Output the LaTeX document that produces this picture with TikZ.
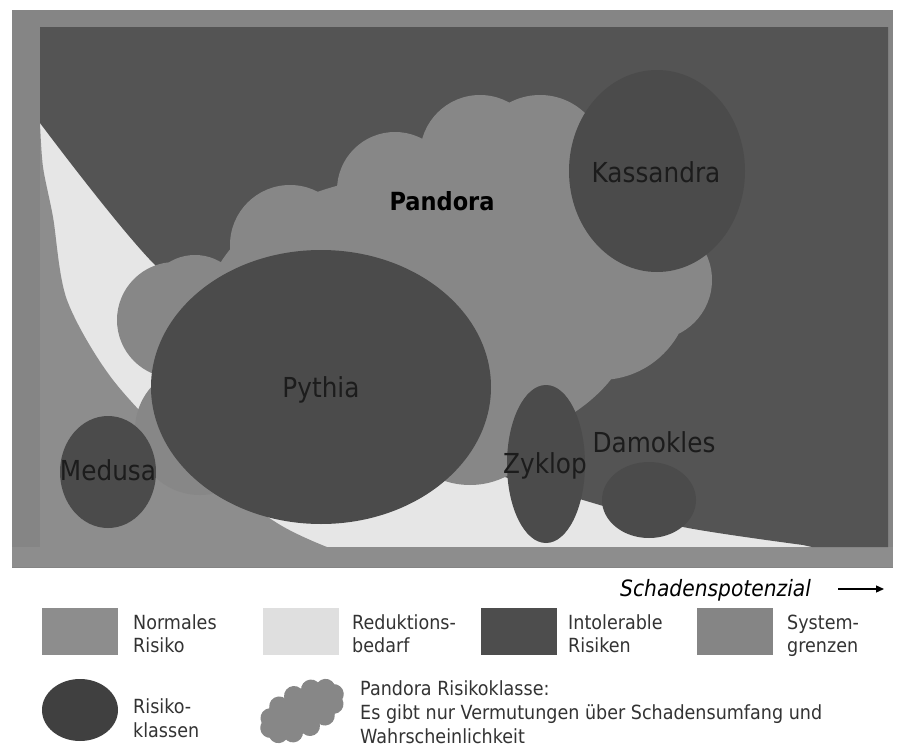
\documentclass[tikz,border=0pt]{standalone}
\usepackage{fontspec}
\setmainfont[FakeStretch=0.9]{DejaVu Sans}
\usetikzlibrary{shapes.geometric,arrows.meta}
\definecolor{sysc}{HTML}{858585}
\definecolor{normc}{HTML}{8D8D8D}
\definecolor{lightc}{HTML}{E6E6E6}
\definecolor{intolc}{HTML}{545454}
\definecolor{classc}{HTML}{4B4B4B}
\definecolor{cloudc}{HTML}{878787}
\definecolor{labc}{HTML}{1C1C1C}
\definecolor{legc}{HTML}{333333}
\tikzset{
  riskclass/.style={ellipse, fill=classc, draw=none, inner sep=0pt},
  biglabel/.style={text=labc, font=\fontsize{27.5}{30}\selectfont, inner sep=0pt, anchor=base},
  legtext/.style={text=legc, font=\fontsize{19.5}{23}\selectfont, inner sep=0pt, anchor=base west},
  legbox/.style={draw=none, inner sep=0pt, minimum width=76pt, minimum height=47pt}
}
\begin{document}
\begin{tikzpicture}[x=1pt,y=-1pt]
\useasboundingbox (0,0) rectangle (898,747);
\fill[white] (0,0) rectangle (898,747);
% system border
\fill[sysc] (12,10) rectangle (893,568);
\fill[normc!95!sysc] (12,547) rectangle (893,567);
% inner area
\fill[lightc] (40,27) rectangle (888,547);
% normal risk region
\fill[normc] plot[smooth] coordinates {(40,123) (43,167) (53,217) (67,300) (113,380) (190,460) (277,523) (327,547)} -- (40,547) -- cycle;
% intolerable region
\fill[intolc] (40,27) -- (888,27) -- (888,547) -- (812,547) -- plot[smooth] coordinates {(803,545) (683,527) (583,500) (450,458) (300,385) (155,265) (40,123)} -- cycle;
% Pandora cloud
\fill[cloudc]
  (420,315) ellipse (215 and 140)
  (175,320) circle (58)
  (195,305) circle (50)
  (290,245) circle (60)
  (395,190) circle (58)
  (480,155) circle (60)
  (540,160) circle (65)
  (600,200) circle (60)
  (600,290) circle (90)
  (652,280) circle (60)
  (470,405) circle (80)
  (200,430) circle (65);
% risk classes
\node[riskclass, minimum width=176pt, minimum height=202pt] (kass) at (657,171) {};
\node[riskclass, minimum width=340pt, minimum height=274pt] (pyth) at (321,387) {};
\node[riskclass, minimum width=96pt, minimum height=112pt] (medu) at (108,472) {};
\node[riskclass, minimum width=78pt, minimum height=158pt] (zykl) at (546,464) {};
\node[riskclass, minimum width=94pt, minimum height=76pt] (damo) at (649,500) {};
% labels
\node[biglabel] (tKass) at (656,182) {Kassandra};
\node[biglabel, text=black, font=\fontsize{25}{30}\selectfont\bfseries] (tPand) at (442,210) {Pandora};
\node[biglabel] (tPyth) at (321,397) {Pythia};
\node[biglabel] (tMedu) at (108,480) {Medusa};
\node[biglabel] (tZykl) at (545,473) {Zyklop};
\node[biglabel] (tDamo) at (654,452) {Damokles};
% axis
\node[text=black, font=\fontsize{22.5}{26}\selectfont\itshape, inner sep=0pt, anchor=base west] (tSchad) at (620,596) {Schadenspotenzial};
\coordinate (arrS) at (838,589);
\coordinate (arrE) at (884,589);
\draw[line width=1.3pt, -{Triangle[length=8pt,width=7pt]}] (arrS) -- (arrE);
% legend row 1
\node[legbox, fill=normc, anchor=north west] (lNorm) at (42,608) {};
\node[legtext] (tNorm1) at (133,629) {Normales};
\node[legtext] (tNorm2) at (133,652) {Risiko};
\node[legbox, fill=lightc!97!black, anchor=north west] (lRed) at (263,608) {};
\node[legtext] (tRed1) at (352,629) {Reduktions-};
\node[legtext] (tRed2) at (352,652) {bedarf};
\node[legbox, fill=intolc!92!black, anchor=north west] (lInt) at (481,608) {};
\node[legtext] (tInt1) at (568,629) {Intolerable};
\node[legtext] (tInt2) at (568,652) {Risiken};
\node[legbox, fill=sysc, anchor=north west] (lSys) at (697,608) {};
\node[legtext] (tSys1) at (787,629) {System-};
\node[legtext] (tSys2) at (787,652) {grenzen};
% legend row 2
\node[ellipse, fill=classc!85!black, inner sep=0pt, minimum width=76pt, minimum height=62pt] (lCls) at (80,710) {};
\node[legtext] (tCls1) at (133,713) {Risiko-};
\node[legtext] (tCls2) at (133,737) {klassen};
\begin{scope}[shift={(302,711)}, rotate=28]
  \fill[cloudc] (0,0) ellipse (38 and 19);
  \foreach \a in {0,30,...,330} \fill[cloudc] (\a:36 and 17) circle (10);
\end{scope}
\node[legtext] (tPan1) at (360,695) {Pandora Risikoklasse:};
\node[legtext] (tPan2) at (360,719) {Es gibt nur Vermutungen über Schadensumfang und};
\node[legtext] (tPan3) at (360,743) {Wahrscheinlichkeit};
\end{tikzpicture}
\end{document}
